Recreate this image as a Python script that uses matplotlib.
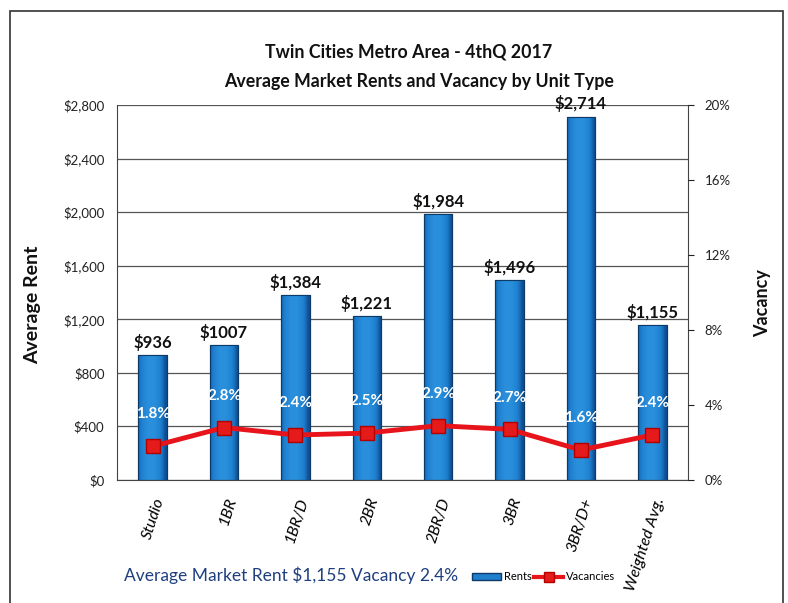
import matplotlib
matplotlib.use("Agg")
import matplotlib.pyplot as plt
import matplotlib.transforms as mtransforms
import numpy as np
from matplotlib.patches import Rectangle
from matplotlib.lines import Line2D
from matplotlib.ticker import FuncFormatter
from matplotlib.colors import LinearSegmentedColormap

plt.rcParams['font.family'] = ['Lato', 'DejaVu Sans']

categories = ["Studio", "1BR", "1BR/D", "2BR", "2BR/D", "3BR", "3BR/D+", "Weighted Avg."]
rents = [936, 1007, 1384, 1221, 1984, 1496, 2714, 1155]
rent_labels = ["$936", "$1007", "$1,384", "$1,221", "$1,984", "$1,496", "$2,714", "$1,155"]
vacancy = [1.8, 2.8, 2.4, 2.5, 2.9, 2.7, 1.6, 2.4]
rent_ticks = [0, 400, 800, 1200, 1600, 2000, 2400, 2800]
vac_ticks = [0, 4, 8, 12, 16, 20]
title_lines = ["Twin Cities Metro Area - 4thQ 2017", "Average Market Rents and Vacancy by Unit Type"]
footer = "Average Market Rent $1,155 Vacancy 2.4%"

W, H = 788, 603
fig = plt.figure(figsize=(W / 100, H / 100), dpi=100)
fig.patch.set_facecolor("white")

# outer frame
fig.add_artist(Rectangle((10 / W, -0.05), (783 - 10) / W, 1.05 - 11 / H, transform=fig.transFigure,
                         fill=False, edgecolor="#333333", linewidth=1.2))

ax = fig.add_axes([117 / W, 1 - 480 / H, (688 - 117) / W, (480 - 105) / H])
x = np.arange(len(categories))
bars = ax.bar(x, rents, width=0.4, color="#1f7fcc", edgecolor="#0d3a66", linewidth=0.8, zorder=2)

# gradient on bars
g = np.linspace(0, 1, 64)
grad = 1 - (2 * np.abs(g - 0.45)) ** 2
cmap = LinearSegmentedColormap.from_list("b", ["#0f4f92", "#1c7ccc", "#2a90dc"])
for b in bars:
    x0, y0 = b.get_x(), b.get_y()
    im = ax.imshow(grad[np.newaxis, :], extent=(x0, x0 + b.get_width(), y0, y0 + b.get_height()),
                   aspect="auto", cmap=cmap, vmin=0, vmax=1, zorder=2.1)
    im.set_clip_path(b)
    ax.add_patch(Rectangle((x0, y0), b.get_width(), b.get_height(), fill=False,
                           edgecolor="#0d3a66", linewidth=0.8, zorder=2.2))

ax.set_xlim(-0.5, len(categories) - 0.5)
ax.set_ylim(0, 2800)
ax.set_yticks(rent_ticks)
ax.yaxis.set_major_formatter(FuncFormatter(lambda v, p: "${:,.0f}".format(v)))
ax.tick_params(axis="y", length=0, pad=9, labelsize=9.5, colors="#222222")
ax.grid(axis="y", color="#555555", linewidth=0.9, zorder=0)
ax.set_axisbelow(True)
ax.set_xticks(x)
ax.set_xticklabels(categories, rotation=72, ha="right", va="center", rotation_mode="anchor",
                   fontsize=11.5, style="italic")
ax.tick_params(axis="x", length=0, pad=13)
shift = mtransforms.ScaledTranslation(8 / 100, 0, fig.dpi_scale_trans)
for lbl in ax.get_xticklabels():
    lbl.set_transform(lbl.get_transform() + shift)
for s in ["left", "bottom", "right"]:
    ax.spines[s].set_color("#444444")
ax.spines["top"].set_visible(False)

for xi, r, lab in zip(x, rents, rent_labels):
    ax.text(xi, r + 30, lab, ha="center", va="bottom", fontsize=12, fontweight="bold", color="#111111", zorder=5)

ax2 = ax.twinx()
ax2.set_ylim(0, 20)
ax2.set_yticks(vac_ticks)
ax2.yaxis.set_major_formatter(FuncFormatter(lambda v, p: "{:.0f}%".format(v)))
ax2.tick_params(axis="y", length=4, pad=8, labelsize=9.5, colors="#222222")
for s in ["left", "bottom", "right", "top"]:
    ax2.spines[s].set_visible(False)
ax2.plot(x, vacancy, color="#e8141b", linewidth=3.5, marker="s", markersize=10,
         markerfacecolor="#e51a1a", markeredgecolor="#b00000", zorder=4)
for xi, v in zip(x, vacancy):
    ax2.text(xi, v + 1.7, "{:.1f}%".format(v), ha="center", va="center", fontsize=11,
             fontweight="bold", color="white", zorder=5)

fig.text(33 / W, 1 - 305 / H, "Average Rent", rotation=90, ha="center", va="center",
         fontsize=14, fontweight="bold", color="#111111")
fig.text(763 / W, 1 - 303 / H, "Vacancy", rotation=90, ha="center", va="center",
         fontsize=13, fontweight="bold", color="#111111")

fig.text(409 / W, 1 - 52 / H, title_lines[0], ha="center", va="center", fontsize=12.8,
         fontweight="bold", color="#111111")
fig.text(419 / W, 1 - 82 / H, title_lines[1], ha="center", va="center", fontsize=12.8,
         fontweight="bold", color="#111111")

fig.text(124 / W, 1 - 575 / H, footer, ha="left", va="center", fontsize=12.5, color="#1f3f7f")

handles = [Rectangle((0, 0), 1, 1, facecolor="#1f7fcc", edgecolor="#0d3a66"),
           Line2D([0], [0], color="#e8141b", linewidth=3, marker="s", markersize=7,
                  markerfacecolor="#e51a1a", markeredgecolor="#b00000")]
fig.legend(handles, ["Rents", "Vacancies"], loc="center left", bbox_to_anchor=(462 / W, 1 - 577 / H),
           ncol=2, frameon=False, fontsize=8, handlelength=2.6, handletextpad=0.3,
           columnspacing=0.2, handleheight=0.5)

fig.savefig("out.png", dpi=100)
